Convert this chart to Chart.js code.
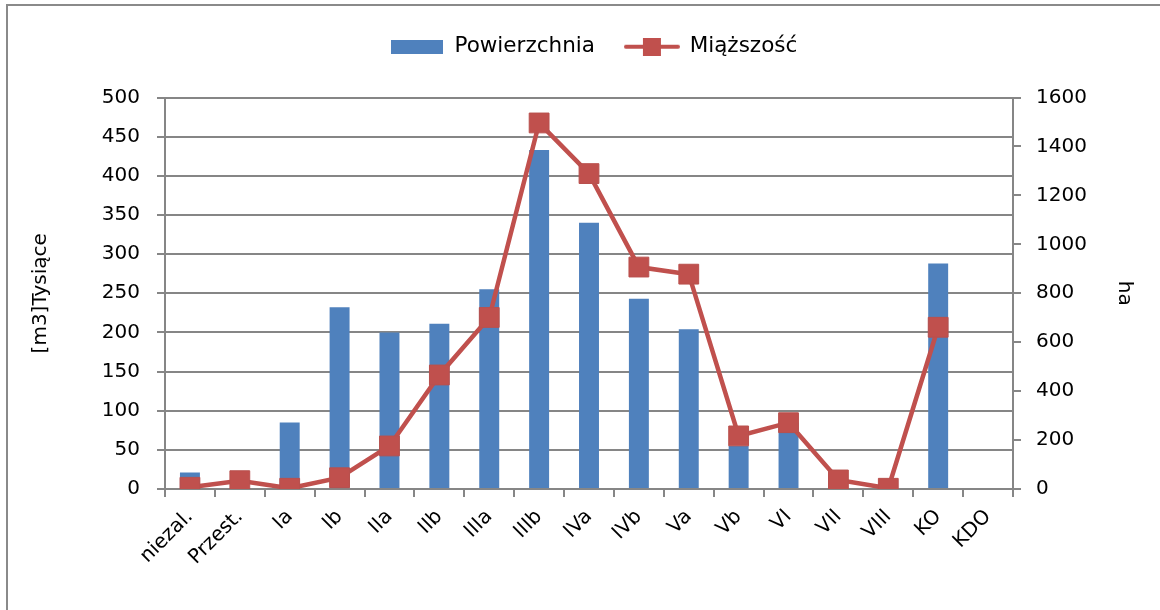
<!DOCTYPE html>
<html>
<head>
<meta charset="utf-8">
<script src="https://cdn.jsdelivr.net/npm/chart.js@4/dist/chart.umd.min.js"></script>
<style>
  html, body { margin: 0; padding: 0; background: #fff; overflow: hidden; }
  #wrap { position: relative; width: 1160px; height: 610px; }
  #frame { position: absolute; left: 6px; top: 4px; width: 2000px; height: 2000px;
           border: 2px solid #8a8a8a; pointer-events: none; }
</style>
</head>
<body>
<div id="wrap">
  <canvas id="wykres" width="1160" height="610"></canvas>
  <div id="frame"></div>
</div>
<script>
const klasy = ['niezal.', 'Przest.', 'Ia', 'Ib', 'IIa', 'IIb', 'IIIa', 'IIIb', 'IVa', 'IVb', 'Va', 'Vb', 'VI', 'VII', 'VIII', 'KO', 'KDO'];
const powierzchnia = [21, null, 85, 232, 200, 211, 255, 433, 340, 243, 204, 55, 85, null, null, 288, null];
const miazszosc = [7, 34, 3, 46, 176, 466, 701, 1496, 1289, 907, 878, 217, 271, 37, 3, 661, null];

const niebieski = '#4F81BD';
const czerwony = '#C0504D';
const szary = '#868686';
const czcionka = { family: 'DejaVu Sans', size: 20 };
const czcionkaLegendy = { family: 'DejaVu Sans', size: 21.5 };

// obrazki do legendy
const boxBar = document.createElement('canvas');
boxBar.width = 52; boxBar.height = 14;
let c = boxBar.getContext('2d');
c.fillStyle = niebieski;
c.fillRect(0, 0, 52, 14);

const boxLine = document.createElement('canvas');
boxLine.width = 56; boxLine.height = 18;
c = boxLine.getContext('2d');
c.strokeStyle = czerwony;
c.lineWidth = 4;
c.lineCap = 'round';
c.beginPath(); c.moveTo(2, 9); c.lineTo(54, 9); c.stroke();
c.fillStyle = czerwony;
c.fillRect(19, 0, 18, 18);

// wiecej miejsca pod legenda, lekko w prawo
const odstepLegendy = {
	id: 'odstepLegendy',
	beforeInit(chart) {
		const legend = chart.legend;
		const fit = legend.fit;
		legend.fit = function () {
			fit.call(this);
			this.height += 30;
		};
		const draw = legend.draw;
		legend.draw = function () {
			const g = this.ctx;
			g.save();
			g.translate(11, 0);
			draw.call(this);
			g.restore();
		};
	}
};

const ctx = document.getElementById('wykres').getContext('2d');

const wykres = new Chart(ctx, {
	type: 'bar',
	data: {
		labels: klasy,
		datasets: [
			{
				label: 'Powierzchnia',
				data: powierzchnia,
				backgroundColor: niebieski,
				borderWidth: 0,
				barPercentage: 0.4,
				categoryPercentage: 1.0,
				yAxisID: 'y',
				order: 1
			},
			{
				type: 'line',
				label: 'Miąższość',
				data: miazszosc,
				borderColor: czerwony,
				backgroundColor: czerwony,
				borderWidth: 4.5,
				pointStyle: 'rect',
				pointRadius: 14,
				pointBorderWidth: 1,
				pointBorderColor: '#B9504D',
				tension: 0,
				yAxisID: 'y1',
				order: 0
			}
		]
	},
	options: {
		responsive: false,
		animation: false,
		layout: { padding: { left: 25, right: 20, top: 6, bottom: 0 } },
		plugins: {
			tooltip: { enabled: false },
			legend: {
				position: 'top',
				labels: {
					color: '#000',
					font: czcionkaLegendy,
					usePointStyle: true,
					pointStyleWidth: 54,
					padding: 30,
					sort: (a, b) => a.datasetIndex - b.datasetIndex,
					generateLabels: (chart) => {
						const items = Chart.defaults.plugins.legend.labels.generateLabels(chart);
						items.forEach((it) => {
							it.pointStyle = it.datasetIndex === 0 ? boxBar : boxLine;
						});
						return items;
					}
				}
			}
		},
		scales: {
			x: {
				grid: { display: true, drawOnChartArea: false, drawTicks: true, tickLength: 8, color: szary, lineWidth: 2, offset: true },
				border: { color: szary, width: 2 },
				ticks: { color: '#000', font: czcionka, minRotation: 45, maxRotation: 45, autoSkip: false, padding: 8 },
				afterFit: (s) => { s.height = 121; }
			},
			y: {
				position: 'left',
				min: 0,
				max: 500,
				ticks: { stepSize: 50, color: '#000', font: czcionka, padding: 17 },
				grid: { color: szary, lineWidth: 2, tickLength: 8 },
				border: { color: szary, width: 2 },
				title: { display: true, text: '[m3]Tysiące', color: '#000', font: czcionka },
				afterFit: (s) => { s.width = 140; }
			},
			y1: {
				position: 'right',
				min: 0,
				max: 1600,
				ticks: { stepSize: 200, color: '#000', font: czcionka, padding: 15, format: { useGrouping: false } },
				grid: { drawOnChartArea: false, color: szary, lineWidth: 2, tickLength: 8 },
				border: { color: szary, width: 2 },
				title: { display: true, text: 'ha', color: '#000', font: czcionka },
				afterFit: (s) => { s.width = 127; }
			}
		}
	},
	plugins: [odstepLegendy]
});
</script>
</body>
</html>
